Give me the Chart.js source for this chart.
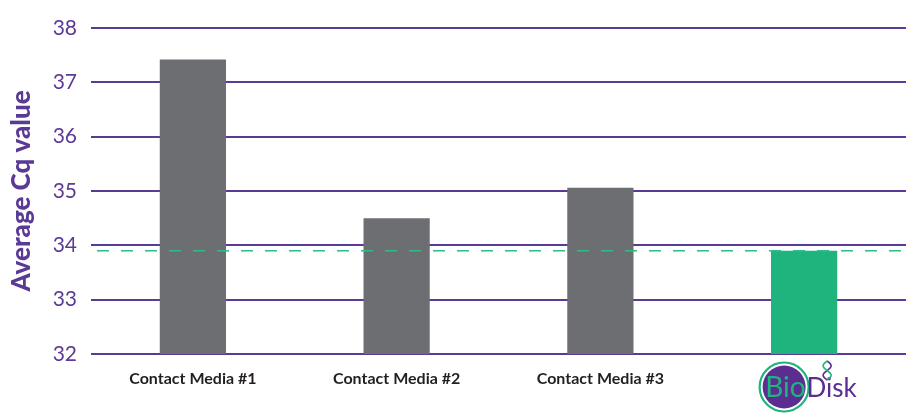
<!DOCTYPE html>
<html>
<head>
<meta charset="utf-8">
<script src="https://cdn.jsdelivr.net/npm/chart.js@4"></script>
<style>
html,body{margin:0;padding:0;background:#fff;}
#wrap{width:906px;height:414px;position:relative;}
</style>
</head>
<body>
<div id="wrap"><canvas id="c" width="906" height="414"></canvas></div>
<script>
const categories = ["Contact Media #1", "Contact Media #2", "Contact Media #3", "BioDisk"];
const cqValues = [37.42, 34.50, 35.06, 33.90];
const barColors = ["#6d6e71", "#6d6e71", "#6d6e71", "#1fb37e"];
const thresholdValue = [33.90];
const yTicks = [32, 33, 34, 35, 36, 37, 38];

const PURPLE = "#5b3a96";

const thresholdPlugin = {
  id: 'threshold',
  afterDatasetsDraw(chart) {
    const {ctx, chartArea, scales} = chart;
    const y = scales.y.getPixelForValue(thresholdValue[0]);
    ctx.save();
    ctx.strokeStyle = "#2ebd85";
    ctx.lineWidth = 1.5;
    ctx.setLineDash([12, 12]);
    ctx.lineDashOffset = -6;
    ctx.beginPath();
    ctx.moveTo(chartArea.left, y);
    ctx.lineTo(chartArea.right, y);
    ctx.stroke();
    ctx.restore();
  }
};

const logoPlugin = {
  id: 'logo',
  afterDraw(chart) {
    const {ctx, scales} = chart;
    const cx = scales.x.getPixelForValue(3) - 20;
    const cy = 387;
    ctx.save();
    ctx.beginPath();
    ctx.arc(cx, cy, 24.5, 0, Math.PI * 2);
    ctx.strokeStyle = "#1fb37e";
    ctx.lineWidth = 2.2;
    ctx.stroke();
    ctx.beginPath();
    ctx.arc(cx, cy, 21.5, 0, Math.PI * 2);
    ctx.fillStyle = "#5b2d91";
    ctx.fill();
    ctx.font = "28px Lato, 'Noto Sans', sans-serif";
    ctx.textBaseline = "alphabetic";
    ctx.textAlign = "left";
    ctx.fillStyle = "#1fb37e";
    ctx.fillText("Bio", cx - 19, cy + 10);
    const bw = ctx.measureText("Bio").width;
    ctx.font = "26px Lato, 'Noto Sans', sans-serif";
    ctx.fillStyle = "#5b2d91";
    ctx.fillText("Disk", cx - 19 + bw + 1, cy + 10);
    // DNA icon
    const dx = cx + 43, top = 361, bot = 380;
    ctx.lineWidth = 1.6;
    ctx.strokeStyle = "#5b2d91";
    ctx.beginPath();
    for (let i = 0; i <= 24; i++) {
      const t = i / 24, yy = top + t * (bot - top);
      const xx = dx + 4 * Math.sin(t * Math.PI * 2);
      if (i === 0) ctx.moveTo(xx, yy); else ctx.lineTo(xx, yy);
    }
    ctx.stroke();
    ctx.strokeStyle = "#1fb37e";
    ctx.beginPath();
    for (let i = 0; i <= 24; i++) {
      const t = i / 24, yy = top + t * (bot - top);
      const xx = dx - 4 * Math.sin(t * Math.PI * 2);
      if (i === 0) ctx.moveTo(xx, yy); else ctx.lineTo(xx, yy);
    }
    ctx.stroke();
    ctx.restore();
  }
};

new Chart(document.getElementById('c'), {
  type: 'bar',
  data: {
    labels: categories,
    datasets: [{
      data: cqValues,
      backgroundColor: barColors,
      borderWidth: 0,
      barPercentage: 0.325,
      categoryPercentage: 1.0
    }]
  },
  options: {
    responsive: false,
    animation: false,
    devicePixelRatio: 1,
    layout: { padding: { top: 28, right: 0, left: 0, bottom: 0 } },
    plugins: { legend: { display: false }, tooltip: { enabled: false } },
    scales: {
      x: {
        grid: { display: false, drawTicks: false },
        border: { display: false },
        ticks: {
          color: "#231f20",
          font: { family: "Lato, 'Noto Sans', sans-serif", size: 16, weight: "bold" },
          padding: 15,
          maxRotation: 0,
          callback: function(v, i) { return i === 3 ? "" : categories[i]; }
        },
        afterFit(scale) { scale.height = 60; }
      },
      y: {
        min: yTicks[0],
        max: yTicks[yTicks.length - 1],
        afterBuildTicks(scale) { scale.ticks = yTicks.map(v => ({ value: v })); },
        grid: { color: PURPLE, lineWidth: 2, drawTicks: false },
        border: { display: false },
        ticks: {
          color: PURPLE,
          font: { family: "Lato, 'Noto Sans', sans-serif", size: 21, weight: "normal" },
          padding: 14
        },
        title: {
          display: true,
          text: "Average Cq value",
          color: PURPLE,
          font: { family: "Lato, 'Noto Sans', sans-serif", size: 26, weight: 900 },
          padding: { top: 6, bottom: 4 }
        },
        afterFit(scale) { scale.width = 91; }
      }
    }
  },
  plugins: [thresholdPlugin, logoPlugin]
});
</script>
</body>
</html>
